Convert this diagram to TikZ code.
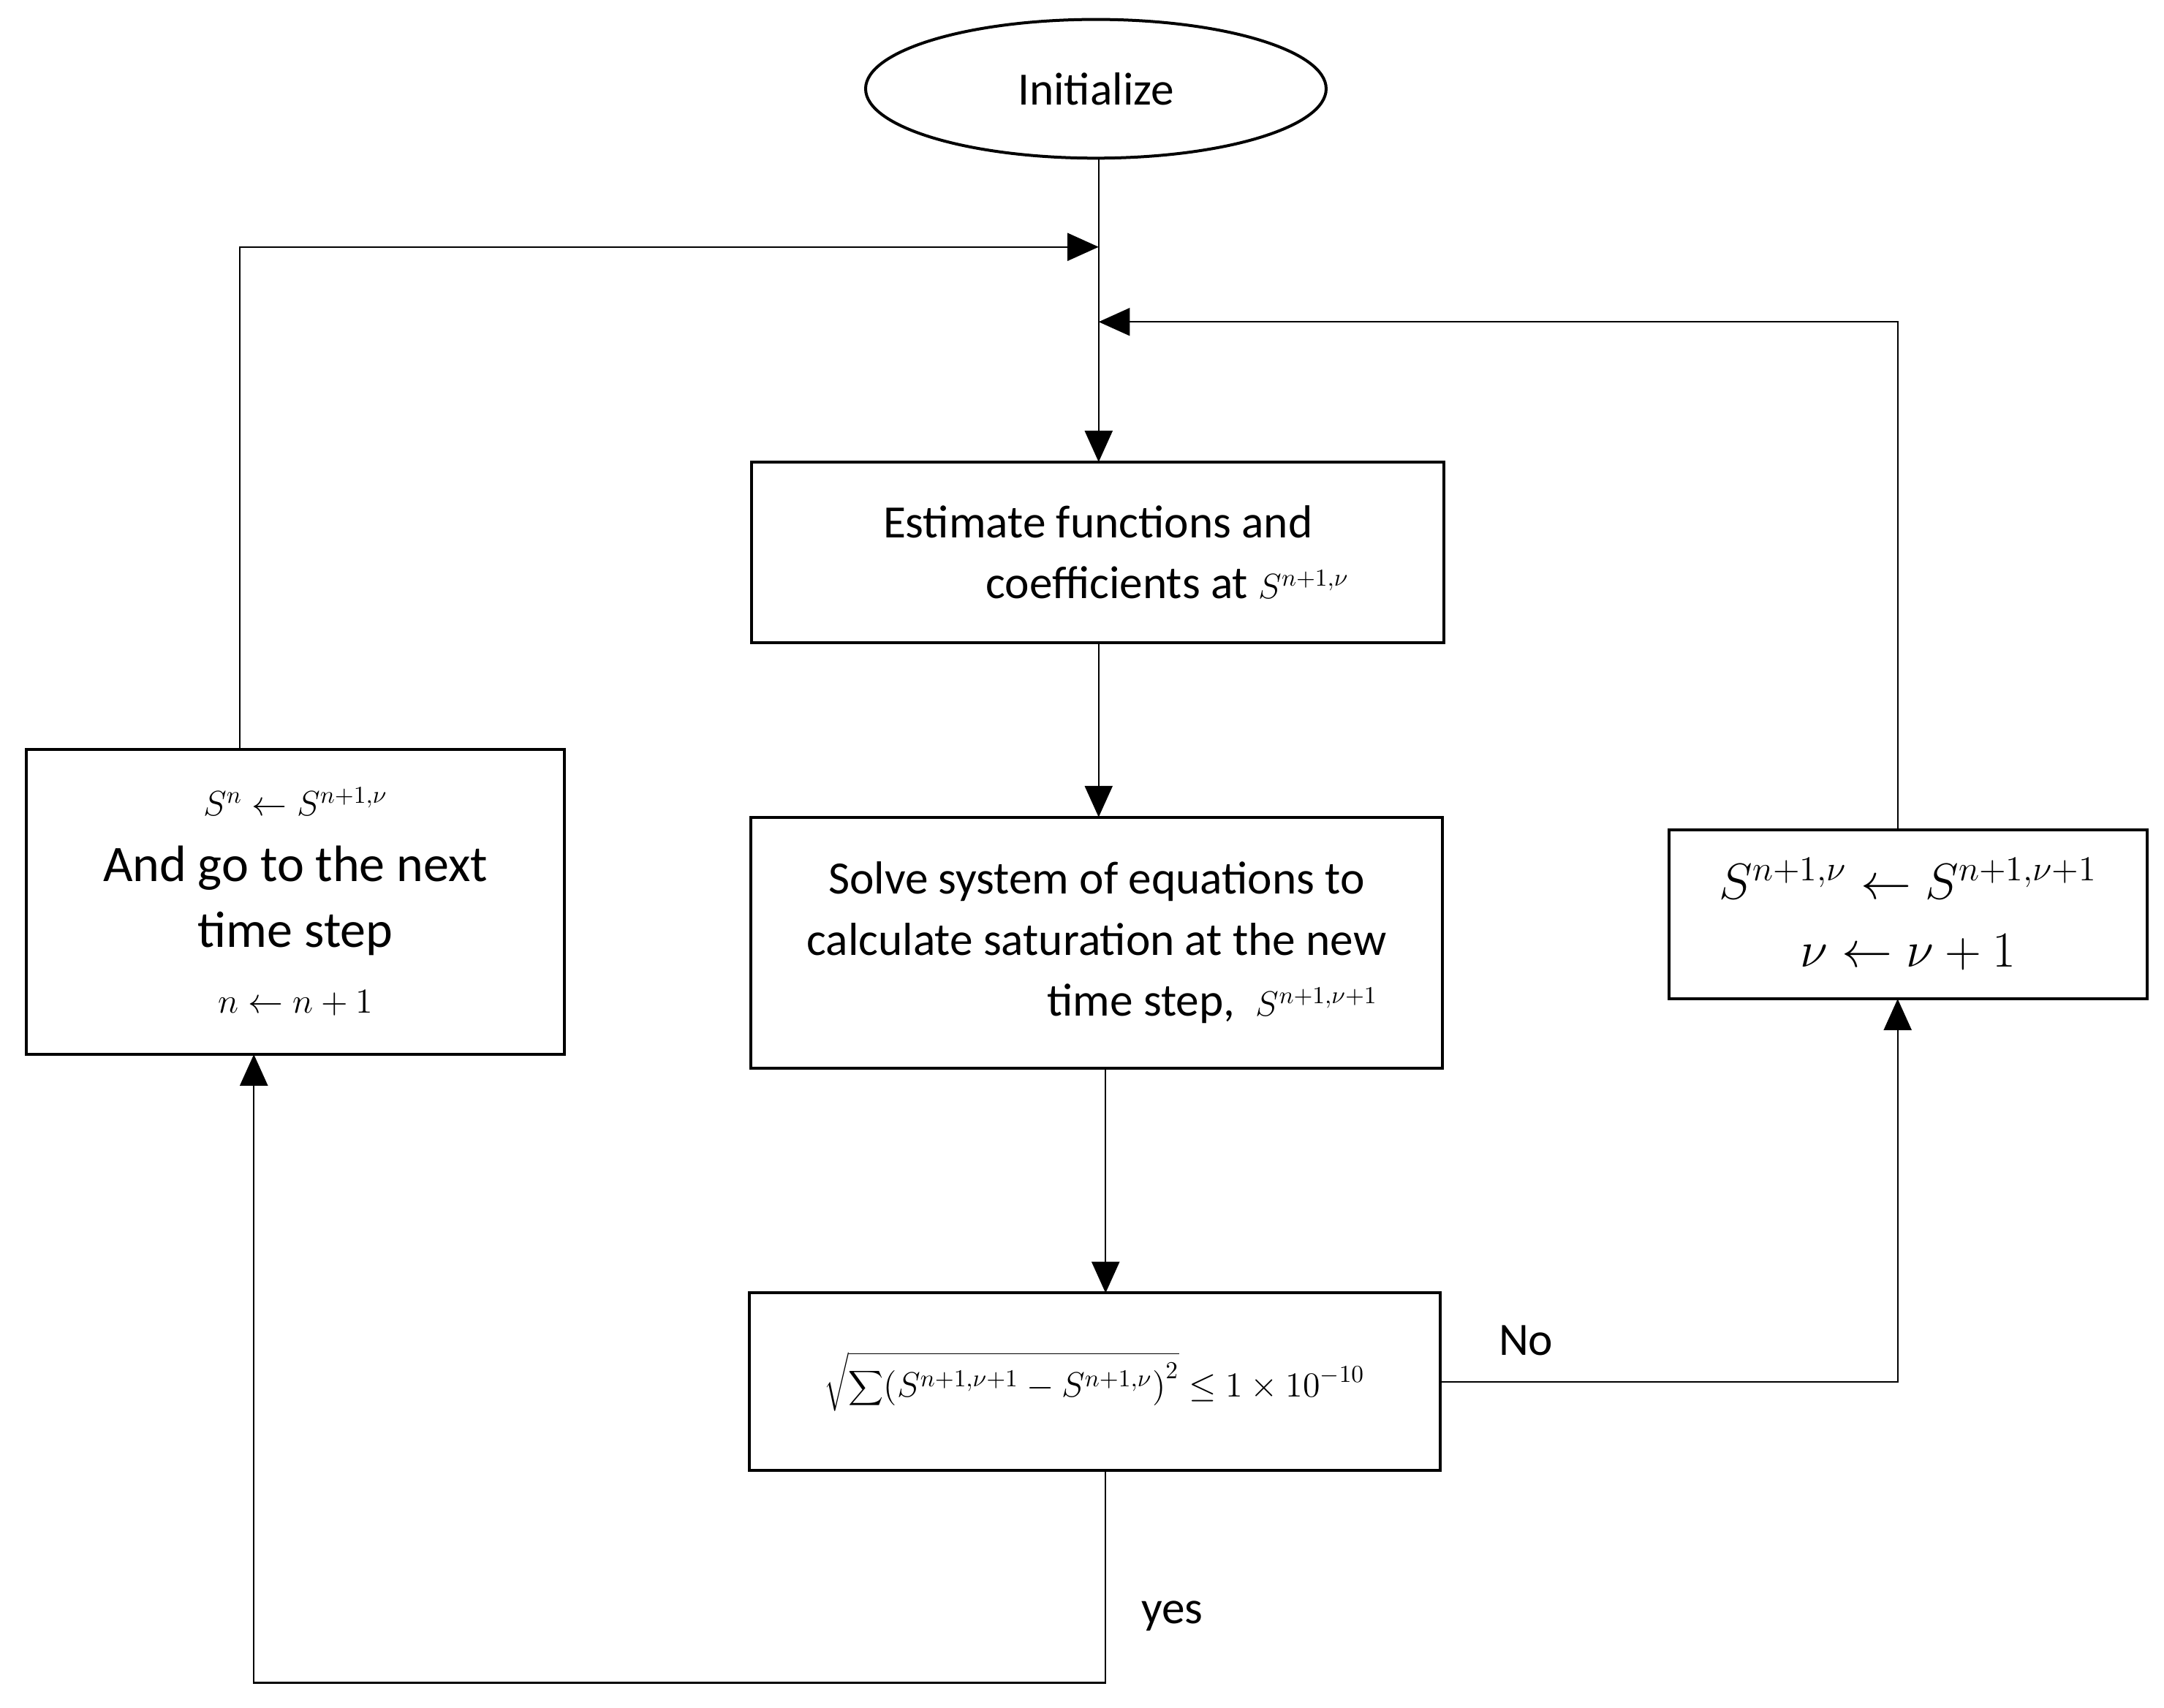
\documentclass[tikz,border=0pt]{standalone}
\usepackage{fontspec}
\setmainfont{Carlito}
\usetikzlibrary{shapes.geometric,arrows.meta}
\begin{document}
\begin{tikzpicture}[x=0.02cm,y=-0.02cm,
  font=\fontsize{19}{25}\selectfont,
  box/.style={draw,line width=1.2pt,align=center,inner sep=0pt},
  ln/.style={line width=0.7pt},
  arr/.style={ln,-{Triangle[length=0.45cm,width=0.4cm]}}]
\useasboundingbox (0,0) rectangle (1560,1231);
\node[draw,ellipse,line width=1.2pt,minimum width=332*0.02cm,minimum height=100*0.02cm] (init) at (790,64) {Initialize};
\node[box,minimum width=499*0.02cm,minimum height=130*0.02cm] (b1) at (791.5,398) {Estimate functions and\\ \hspace*{3em}coefficients at {\Large$S^{n+1,\nu}$}};
\node[box,minimum width=499*0.02cm,minimum height=181*0.02cm] (b2) at (790.5,679.5) {Solve system of equations to\\ calculate saturation at the new\\ \hspace*{5em}time step,\ \ {\Large$S^{n+1,\nu+1}$}};
\node[box,minimum width=498*0.02cm,minimum height=128*0.02cm,font=\Large] (b3) at (789,996) {$\displaystyle\sqrt{\sum\Bigl(S^{n+1,\nu+1}-S^{n+1,\nu}\Bigr)^2}\le 1\times10^{-10}$};
\node[box,minimum width=345*0.02cm,minimum height=122*0.02cm,font=\fontsize{22}{28}\selectfont] (br) at (1375.5,659) {$S^{n+1,\nu}\leftarrow S^{n+1,\nu+1}$\\ $\nu\leftarrow\nu+1$};
\node[box,minimum width=388*0.02cm,minimum height=220*0.02cm,font=\fontsize{21}{27}\selectfont] (bl) at (213,650) {{\Large$S^{n}\leftarrow S^{n+1,\nu}$}\\ And go to the next\\ time step\\ {\Large$n\leftarrow n+1$}};
\coordinate (j1) at (792,178);
\coordinate (j2) at (792,232);
\draw[ln] (792,114) -- (j1);
\draw[arr] (j1) -- (792,333);
\draw[arr] (792,463) -- (792,589);
\draw[arr] (797,770) -- (797,932);
\draw[arr] (173,540) -- (173,178) -- (j1);
\draw[arr] (1368,598) -- (1368,232) -- (j2);
\draw[arr] (b3.east) -- (1368,996) -- (1368,720);
\draw[arr] (797,1060) -- (797,1213) -- (183,1213) -- (183,760);
\node (no) at (1100,966) {No};
\node (yes) at (845,1165) {yes};
\end{tikzpicture}
\end{document}
